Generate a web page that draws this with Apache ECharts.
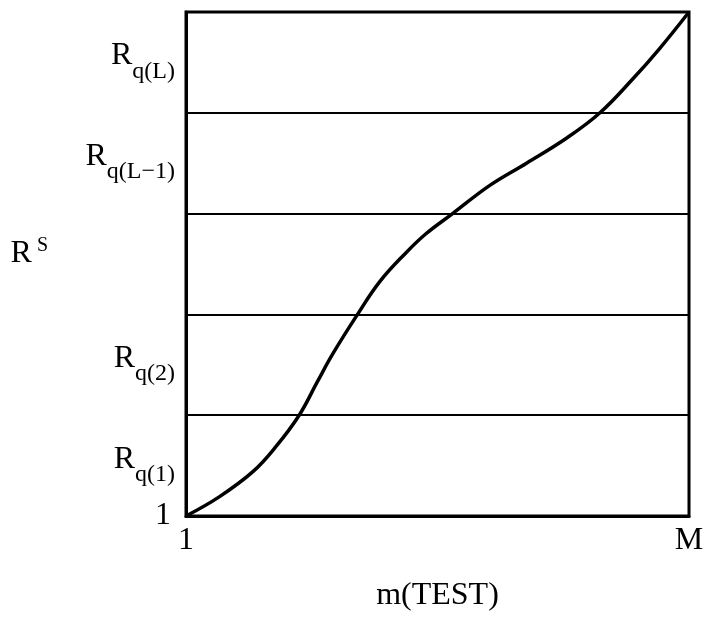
<!DOCTYPE html>
<html>
<head>
<meta charset="utf-8">
<title>R^S versus m(TEST)</title>
<script src="https://cdn.jsdelivr.net/npm/echarts@6/dist/echarts.min.js"></script>
<style>
  html, body { margin: 0; padding: 0; background: #ffffff; }
  #chart { width: 708px; height: 619px; }
</style>
</head>
<body>
<div id="chart"></div>
<script>
// Curve of R^S against m(TEST): x runs from 1 (0) to M (1), y in bands of R_q.
const curveX = [0, 0.066, 0.133, 0.179, 0.225, 0.261, 0.292, 0.341, 0.386, 0.437, 0.477, 0.530, 0.604, 0.677, 0.757, 0.823, 0.889, 0.942, 1.0];
const curveY = [0, 0.19, 0.44, 0.69, 1.00, 1.33, 1.61, 2.00, 2.33, 2.61, 2.80, 3.00, 3.28, 3.50, 3.75, 4.00, 4.34, 4.64, 5.0];

// Band boundaries drawn across the plot
const bandLevels = [1, 2, 3, 4];

// Y tick labels: main letter plus subscript, placed mid-band
const yTickValues = [0, 0.5, 1.5, 3.5, 4.5];
const yTickMain = ['1', 'R', 'R', 'R', 'R'];
const yTickSub = ['', 'q(1)', 'q(2)', 'q(L\u22121)', 'q(L)'];

// X tick labels at the two ends
const xTickValues = [0, 1];
const xTickLabels = ['1', 'M'];

const FONT = '"Liberation Serif", "DejaVu Serif", serif';

const chart = echarts.init(document.getElementById('chart'), null, { renderer: 'canvas' });

const option = {
  backgroundColor: '#ffffff',
  animation: false,
  grid: {
    left: 186,
    right: 19,
    top: 12,
    bottom: 103,
    show: true,
    borderColor: '#000',
    borderWidth: 3,
    backgroundColor: 'transparent'
  },
  xAxis: {
    type: 'value',
    min: 0,
    max: 1,
    interval: 1,
    axisLine: { show: true, lineStyle: { color: '#000', width: 3 } },
    axisTick: { show: false },
    splitLine: { show: false },
    axisLabel: {
      margin: 9,
      color: '#000',
      fontFamily: FONT,
      fontSize: 32,
      formatter: function (v) {
        const i = xTickValues.findIndex(t => Math.abs(t - v) < 1e-9);
        return i >= 0 ? xTickLabels[i] : '';
      }
    },
    name: 'm(TEST)',
    nameLocation: 'middle',
    nameGap: 64,
    nameTextStyle: { color: '#000', fontFamily: FONT, fontSize: 32 }
  },
  yAxis: {
    type: 'value',
    min: 0,
    max: 5,
    interval: 0.5,
    axisLine: { show: true, lineStyle: { color: '#000', width: 3 } },
    axisTick: { show: false },
    splitLine: { show: false },
    axisLabel: {
      margin: 11,
      color: '#000',
      formatter: function (v) {
        const i = yTickValues.findIndex(t => Math.abs(t - v) < 1e-9);
        if (i < 0) return '';
        if (!yTickSub[i]) return '{n|' + yTickMain[i] + '}';
        return '{r|' + yTickMain[i] + '}{s|' + yTickSub[i] + '}';
      },
      rich: {
        n: { fontFamily: FONT, fontSize: 32, lineHeight: 32, color: '#000', padding: [0, 4, 0, 0] },
        r: { fontFamily: FONT, fontSize: 32, lineHeight: 32, color: '#000', padding: [0, 0, 13, 0] },
        s: { fontFamily: FONT, fontSize: 24, lineHeight: 24, color: '#000', padding: [18, 0, 0, 0] }
      }
    },
    name: '{r|R}{s|S}',
    nameLocation: 'middle',
    nameRotate: 0,
    nameGap: 138,
    nameTextStyle: {
      padding: [0, 0, 21, 0],
      rich: {
        r: { fontFamily: FONT, fontSize: 32, lineHeight: 32, color: '#000' },
        s: { fontFamily: FONT, fontSize: 20, lineHeight: 20, color: '#000', padding: [0, 0, 15, 5] }
      }
    }
  },
  series: [
    {
      type: 'line',
      data: curveX.map((x, i) => [x, curveY[i]]),
      smooth: 0.4,
      showSymbol: false,
      clip: false,
      lineStyle: { color: '#000', width: 3.5 },
      markLine: {
        silent: true,
        symbol: ['none', 'none'],
        label: { show: false },
        lineStyle: { color: '#000', width: 2, type: 'solid' },
        data: bandLevels.map(v => ({ yAxis: v }))
      }
    }
  ]
};

chart.setOption(option);
</script>
</body>
</html>
